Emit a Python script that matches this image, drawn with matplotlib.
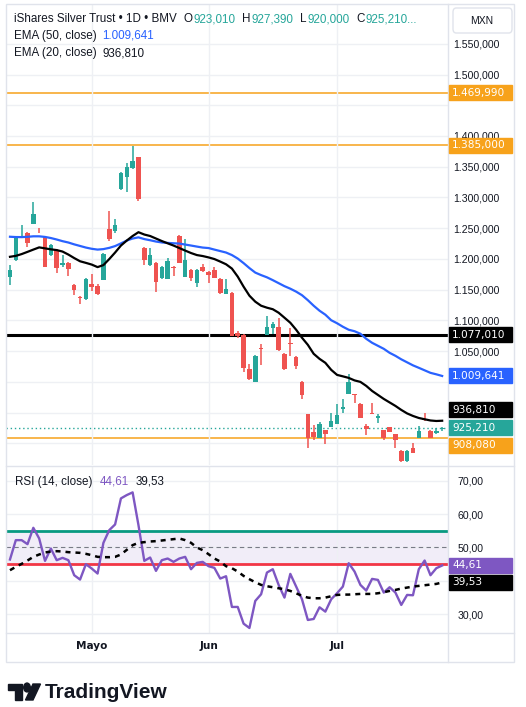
import matplotlib
matplotlib.use('Agg')
import matplotlib.pyplot as plt
from matplotlib.patches import Rectangle, FancyBboxPatch, Polygon, Circle
from matplotlib.lines import Line2D
import numpy as np

# ---- data ----
opens = [1171.2, 1198.9, 1234.8, 1243.0, 1257.6, 1249.5, 1236.4, 1207.1, 1215.3, 1190.8,
         1194.0, 1158.2, 1138.6, 1135.4, 1159.8, 1156.6, 1166.3, 1247.9, 1246.2, 1313.1,
         1332.6, 1347.3, 1365.3, 1218.5, 1190.8, 1194.0, 1169.6, 1168.0, 1187.5, 1238.1,
         1171.2, 1182.6, 1161.5, 1187.5, 1179.4, 1182.6, 1168.0, 1143.5, 1145.1, 1079.9,
         1076.7, 1021.2, 1000.4, 1055.5, 1076.7, 1088.1, 1089.7, 1045.7, 1063.6, 1040.8,
         1000.4, 947.9, 918.5, 908.7, 921.8, 926.6, 931.5, 956.0, 980.5, 980.5,
         964.2, 928.3, 948.7, 941.3, 921.8, 926.6, 915.2, 887.5, 871.2, 892.4,
         908.7, 938.9, 920.1, 916.9, 923.01]
highs = [1190.8, 1236.0, 1254.4, 1244.6, 1291.9, 1251.1, 1238.0, 1225.0, 1216.9, 1207.1,
         1195.0, 1159.0, 1139.0, 1169.0, 1176.1, 1159.8, 1210.4, 1277.2, 1264.2, 1340.8,
         1355.5, 1383.2, 1366.0, 1219.0, 1218.5, 1195.0, 1188.5, 1202.2, 1189.2, 1239.0,
         1233.2, 1183.5, 1183.5, 1192.4, 1180.5, 1187.5, 1169.0, 1168.0, 1146.0, 1083.2,
         1078.3, 1029.4, 1043.4, 1062.0, 1107.6, 1097.9, 1104.4, 1046.5, 1088.1, 1041.5,
         1001.0, 948.5, 929.9, 934.8, 922.5, 949.5, 964.2, 972.3, 1013.1, 981.0,
         965.0, 931.5, 965.8, 947.9, 922.5, 927.0, 916.0, 889.1, 889.0, 900.6,
         928.3, 949.5, 921.0, 925.0, 927.39]
lows = [1158.2, 1197.0, 1234.0, 1220.1, 1257.0, 1243.0, 1187.0, 1205.5, 1177.8, 1187.5,
        1172.9, 1141.9, 1127.2, 1134.0, 1148.4, 1141.9, 1165.0, 1229.9, 1243.0, 1311.5,
        1308.2, 1347.0, 1295.0, 1190.8, 1189.0, 1146.8, 1168.0, 1167.0, 1172.9, 1193.0,
        1170.0, 1164.7, 1154.9, 1179.4, 1161.5, 1168.5, 1143.5, 1143.0, 1074.0, 1071.8,
        1016.3, 1003.3, 999.5, 1027.7, 1076.0, 1078.3, 1050.6, 1019.6, 1042.4, 1021.2,
        972.3, 892.4, 905.5, 908.0, 898.9, 926.0, 931.0, 949.5, 980.0, 965.8,
        941.0, 913.6, 947.0, 933.2, 905.5, 918.0, 892.4, 869.6, 869.6, 884.0,
        908.0, 936.4, 908.0, 916.0, 920.0]
closes = [1182.6, 1234.8, 1236.4, 1226.7, 1272.3, 1247.9, 1187.5, 1223.4, 1185.9, 1194.0,
          1184.3, 1150.0, 1136.2, 1168.0, 1154.9, 1143.5, 1208.7, 1233.2, 1254.4, 1339.2,
          1349.0, 1358.8, 1296.8, 1198.9, 1207.1, 1163.1, 1187.5, 1197.3, 1185.9, 1194.0,
          1198.9, 1169.6, 1182.6, 1181.0, 1174.5, 1169.6, 1145.1, 1151.7, 1075.0, 1075.0,
          1022.9, 1004.9, 1042.4, 1053.8, 1089.7, 1094.6, 1052.2, 1021.2, 1062.0, 1026.1,
          978.8, 908.7, 910.3, 931.5, 915.2, 936.4, 946.2, 959.3, 1000.0, 978.8,
          941.3, 923.4, 947.0, 944.6, 908.7, 918.5, 905.5, 871.2, 887.5, 884.3,
          920.1, 937.2, 908.7, 920.1, 925.21]

ema50 = [1236.1, 1235.6, 1235.5, 1236.0, 1236.8, 1236.8, 1235.8, 1234.0, 1231.6, 1228.9,
         1226.7, 1223.7, 1221.1, 1218.5, 1216.5, 1215.2, 1216.0, 1218.0, 1220.9, 1225.3,
         1229.9, 1233.2, 1235.1, 1232.3, 1230.4, 1228.3, 1226.8, 1226.1, 1225.5, 1225.0,
         1223.4, 1221.8, 1220.1, 1218.5, 1217.7, 1215.2, 1212.8, 1210.4, 1206.3, 1200.6,
         1193.2, 1185.1, 1177.8, 1173.7, 1170.1, 1165.5, 1160.6, 1155.7, 1151.6, 1146.8,
         1141.0, 1132.9, 1123.9, 1115.8, 1109.3, 1100.3, 1095.4, 1089.7, 1084.8, 1082.4,
         1078.3, 1070.1, 1063.6, 1058.7, 1053.8, 1047.3, 1042.4, 1036.7, 1031.8, 1026.9,
         1022.9, 1018.8, 1014.7, 1012.3, 1009.641]
ema20 = [1203.5, 1205.0, 1207.9, 1211.5, 1215.2, 1218.8, 1217.2, 1215.6, 1214.4, 1212.0,
         1207.1, 1201.4, 1196.2, 1193.6, 1190.8, 1186.7, 1190.0, 1199.8, 1210.4, 1221.8,
         1229.9, 1237.3, 1243.5, 1239.7, 1237.3, 1233.2, 1229.1, 1225.4, 1221.8, 1217.7,
         1213.6, 1209.6, 1206.3, 1204.7, 1202.5, 1199.8, 1195.7, 1191.3, 1184.3, 1171.2,
         1154.9, 1140.2, 1130.5, 1123.9, 1120.7, 1118.2, 1112.5, 1104.4, 1096.2, 1084.8,
         1071.8, 1060.3, 1045.7, 1037.5, 1031.0, 1019.6, 1011.4, 1009.0, 1006.5, 1002.4,
         1000.0, 993.5, 985.3, 978.8, 972.3, 966.6, 960.9, 954.4, 948.7, 944.6,
         941.3, 939.2, 937.2, 936.4, 936.81]

rsi = [46.4, 52.2, 52.2, 51.0, 55.9, 52.7, 46.0, 49.7, 46.2, 46.9,
       46.2, 41.7, 40.4, 45.0, 43.7, 42.2, 51.4, 55.2, 56.9, 64.7,
       65.7, 66.5, 56.7, 46.0, 47.0, 43.0, 46.2, 46.7, 45.7, 46.7,
       47.2, 43.5, 45.4, 45.7, 44.4, 43.9, 40.7, 41.4, 32.2, 32.2,
       27.2, 25.9, 34.0, 36.0, 42.5, 43.5, 38.8, 35.0, 42.1, 38.3,
       34.5, 28.3, 28.6, 32.1, 30.8, 34.5, 36.3, 38.3, 45.3, 42.8,
       38.8, 37.1, 40.6, 40.3, 36.5, 38.1, 36.5, 32.8, 35.8, 35.7,
       43.5, 46.1, 41.7, 43.8, 44.61]
rsi_ma = [43.2, 44.2, 45.1, 46.1, 47.2, 47.9, 48.5, 48.8, 48.9, 48.8,
          48.6, 48.5, 48.4, 48.1, 47.7, 47.2, 47.1, 47.1, 47.2, 47.9,
          49.3, 50.7, 51.4, 51.6, 51.8, 51.9, 52.1, 52.3, 52.5, 52.7,
          52.2, 51.4, 50.0, 49.2, 48.0, 46.7, 45.8, 44.4, 43.8, 42.8,
          41.5, 40.5, 39.6, 38.8, 38.4, 38.1, 37.8, 37.5, 37.0, 36.3,
          35.5, 35.0, 34.8, 34.8, 35.0, 35.4, 35.8, 35.9, 35.9, 36.0,
          36.1, 36.1, 36.1, 36.3, 36.6, 37.0, 37.3, 37.7, 38.0, 38.3,
          38.5, 38.7, 38.9, 39.1, 39.53]

month_pos = [14, 34, 56]
month_labels = ['Mayo', 'Jun', 'Jul']

resistance = [1469.99, 1385.0]
pivot = 1077.01
support = 908.08

# axis labels that sit under a value tag in the reference
hidden_price = [900, 950, 1000, 1450]
hidden_rsi = [40]

# ---- style ----
W, H = 526, 707
UP, DOWN = '#26a69a', '#ef5350'
GRID = '#eef0f4'
BORDER = '#e0e3eb'
ORANGE = '#f7a21b'
BLUE = '#2962ff'
PURPLE = '#7e57c2'
DARK = '#131722'
AXFONT = ['DejaVu Sans']
plt.rcParams['font.family'] = ['Liberation Sans', 'DejaVu Sans']


def fx(px):
    return px / W


def fy(py):
    return 1 - py / H


def fmt_price(v):
    s = f'{v:,.3f}'
    return s.replace(',', 'X').replace('.', ',').replace('X', '.')


def fmt_rsi(v):
    return f'{v:.2f}'.replace('.', ',')


def main():
    fig = plt.figure(figsize=(W / 100, H / 100), dpi=100)
    fig.patch.set_facecolor('white')

    left, right = 6, 448
    ax = fig.add_axes([fx(left), fy(465), (right - left) / W, (465 - 4) / H])
    ax2 = fig.add_axes([fx(left), fy(633), (right - left) / W, (633 - 466) / H])

    n = len(closes)
    x = np.arange(n)
    xlim = (-0.68, 75.0)

    # price panel
    ax.set_xlim(*xlim)
    ax.set_ylim(864.8, 1614.7)
    for i in range(n):
        c = UP if closes[i] >= opens[i] else DOWN
        ax.vlines(x[i], lows[i], highs[i], color=c, lw=1.1, zorder=2)
        lo = min(opens[i], closes[i])
        h = max(abs(closes[i] - opens[i]), 1.0)
        ax.bar(x[i], h, bottom=lo, width=0.78, color=c, zorder=2)

    ax.plot(x, ema50, color=BLUE, lw=1.6, zorder=3)
    ax.plot(x, ema20, color='black', lw=1.6, zorder=3)
    for r in resistance:
        ax.axhline(r, color=ORANGE, lw=1.1, zorder=1)
    ax.axhline(support, color=ORANGE, lw=1.1, zorder=1)
    ax.axhline(pivot, color='black', lw=2.2, zorder=1)
    ax.axhline(closes[-1], color=UP, lw=1, ls=(0, (1, 2)), zorder=1)

    ticks = np.arange(900, 1551, 50)
    labels = ['' if t in hidden_price else fmt_price(t) for t in ticks]
    ax.set_yticks(ticks, labels)
    for lbl, t in zip(ax.get_yticklabels(), ticks):
        lbl.set_family(AXFONT)
        if t % 100 == 0:
            lbl.set_fontweight('bold')
    ax.yaxis.tick_right()
    ax.tick_params(axis='y', length=0, pad=4, labelsize=7.6, colors=DARK)
    ax.set_xticks(month_pos)
    ax.tick_params(axis='x', length=0, labelbottom=False)
    ax.grid(True, color=GRID, lw=1, zorder=0)
    for s in ax.spines.values():
        s.set_visible(False)

    # rsi panel
    ax2.set_xlim(*xlim)
    ax2.set_ylim(24.4, 74.4)
    ax2.fill_between(xlim, 45, 55, color=PURPLE, alpha=0.1, lw=0, zorder=1)
    ax2.axhline(55, color='#089981', lw=2, zorder=2)
    ax2.axhline(45, color='#f23645', lw=2, zorder=2)
    ax2.axhline(50, color='#787b86', lw=0.8, ls=(0, (4, 3)), zorder=2)
    ax2.plot(x, rsi, color=PURPLE, lw=1.7, zorder=3)
    ax2.plot(x, rsi_ma, color='black', lw=1.8, ls=(0, (2, 2)), zorder=3)
    rt = [30, 40, 50, 60, 70]
    ax2.set_yticks(rt, ['' if t in hidden_rsi else fmt_rsi(t) for t in rt])
    for lbl, t in zip(ax2.get_yticklabels(), rt):
        lbl.set_family(AXFONT)
        if t == 50:
            lbl.set_fontweight('bold')
    ax2.yaxis.tick_right()
    ax2.tick_params(axis='y', length=0, pad=7, labelsize=7.6, colors=DARK)
    ax2.set_xticks(month_pos, month_labels, fontweight='bold', family=AXFONT)
    ax2.tick_params(axis='x', length=0, pad=6, labelsize=7.6, colors=DARK)
    ax2.grid(True, color=GRID, lw=1, zorder=0)
    for s in ax2.spines.values():
        s.set_visible(False)

    # frame lines
    fig.add_artist(Rectangle((fx(6), fy(662)), (514 - 6) / W, (662 - 4) / H,
                             transform=fig.transFigure, fill=False, ec=BORDER, lw=1))
    for yy in (465.5, 633):
        fig.add_artist(Line2D([fx(6), fx(514)], [fy(yy), fy(yy)], color=BORDER, lw=1))
    fig.add_artist(Line2D([fx(448), fx(448)], [fy(4), fy(662)], color=BORDER, lw=1))

    # currency box
    fig.add_artist(FancyBboxPatch((fx(453), fy(33)), 59 / W, 25 / H,
                                  boxstyle='round,pad=0,rounding_size=0.006',
                                  transform=fig.transFigure, fc='white', ec=BORDER, lw=1))
    fig.text(fx(482), fy(21), 'MXN', ha='center', va='center', fontsize=7.5, color=DARK)

    # value tags on the axis
    def tag(axis, value, text, color, dy=0):
        ypx = H - axis.transData.transform((0, value))[1] + dy
        fig.add_artist(Rectangle((fx(449), fy(ypx + 7.5)), 63 / W, 15 / H,
                                 transform=fig.transFigure, color=color, zorder=5))
        fig.text(fx(452), fy(ypx), text, ha='left', va='center', fontsize=7.6,
                 color='white', zorder=6, family=AXFONT)

    tag(ax, resistance[0], fmt_price(resistance[0]), ORANGE)
    tag(ax, resistance[1], fmt_price(resistance[1]), ORANGE)
    tag(ax, pivot, fmt_price(pivot), 'black')
    tag(ax, ema50[-1], fmt_price(ema50[-1]), BLUE)
    tag(ax, ema20[-1], fmt_price(ema20[-1]), 'black', dy=-11)
    tag(ax, closes[-1], fmt_price(closes[-1]), UP)
    tag(ax, support, fmt_price(support), ORANGE, dy=7)
    tag(ax2, rsi[-1], fmt_rsi(rsi[-1]), PURPLE)
    tag(ax2, rsi_ma[-1], fmt_rsi(rsi_ma[-1]), 'black')

    # legend texts
    renderer = fig.canvas.get_renderer()

    def chain(y, parts, x0=14):
        xx = x0
        for txt, col, gap in parts:
            t = fig.text(fx(xx), fy(y), txt, ha='left', va='center', fontsize=8.4, color=col)
            bb = t.get_window_extent(renderer)
            xx = bb.x1 + gap

    chain(19, [('iShares Silver Trust \u2022 1D \u2022 BMV', DARK, 7),
               ('O', DARK, 0.5), (fmt_price(opens[-1]), UP, 7),
               ('H', DARK, 0.5), (fmt_price(highs[-1]), UP, 7),
               ('L', DARK, 0.5), (fmt_price(lows[-1]), UP, 7),
               ('C', DARK, 0.5), (fmt_price(closes[-1]) + '...', UP, 0)])
    chain(36, [('EMA (50, close)', DARK, 6), (fmt_price(ema50[-1]), BLUE, 0)])
    chain(53, [('EMA (20, close)', DARK, 6), (fmt_price(ema20[-1]), DARK, 0)])
    chain(482, [('RSI (14, close)', DARK, 7), (fmt_rsi(rsi[-1]), PURPLE, 7),
                (fmt_rsi(rsi_ma[-1]), DARK, 0)], x0=15)

    # TradingView logo
    fig.add_artist(Polygon([(fx(8), fy(684)), (fx(22), fy(684)), (fx(22), fy(700)),
                            (fx(15), fy(700)), (fx(15), fy(690)), (fx(8), fy(690))],
                           closed=True, transform=fig.transFigure, color=DARK))
    fig.add_artist(Circle((fx(27), fy(687.5)), 3.3 / W, transform=fig.transFigure,
                          color=DARK))
    fig.add_artist(Polygon([(fx(33), fy(684)), (fx(40.5), fy(684)), (fx(33), fy(700)),
                            (fx(25.5), fy(700))],
                           closed=True, transform=fig.transFigure, color=DARK))
    fig.text(fx(45), fy(692), 'TradingView', ha='left', va='center', fontsize=15,
             fontweight='bold', color=DARK)

    fig.savefig('out.png', dpi=100)


if __name__ == '__main__':
    main()
